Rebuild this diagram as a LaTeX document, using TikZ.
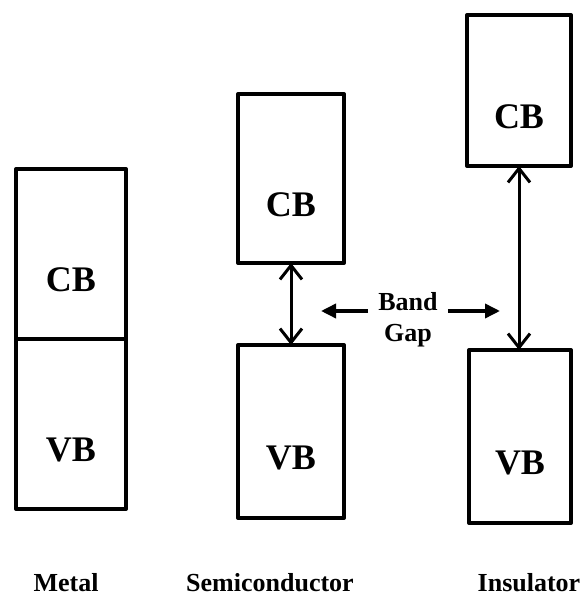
\documentclass[tikz,border=0pt]{standalone}
\usepackage{fontspec}
\setmainfont{Liberation Serif}
\usetikzlibrary{arrows.meta, positioning, calc}

\begin{document}
\begin{tikzpicture}[
            x=1pt, y=1pt,
            % --- 样式 ---
            bandbox/.style={rectangle, draw, line width=4pt, line join=round, outer sep=0pt, inner sep=0pt,
                            minimum width=110pt},
            bandtext/.style={font=\fontsize{36}{40}\selectfont\bfseries, yshift=-26pt},
            material/.style={font=\fontsize{26}{30}\selectfont\bfseries, anchor=base, inner sep=1pt},
            gaplabel/.style={font=\fontsize{26}{31}\selectfont\bfseries, align=center, inner sep=10pt},
            gapline/.style={draw, line width=3pt,
                            {Straight Barb[length=14pt,width=22pt]}-{Straight Barb[length=14pt,width=22pt]}},
            pointer/.style={draw, line width=3.5pt, -{Triangle[length=15pt,width=14pt]}}
        ]
        \useasboundingbox (0,0) rectangle (584,599);

        % --- 金属 ---
        \node[bandbox, minimum height=170pt] (mcb) at (71,345) {};
        \node[bandbox, minimum height=170pt, below=0pt of mcb] (mvb) {};
        \node[bandtext] at (mcb.center) {CB};
        \node[bandtext] at (mvb.center) {VB};

        % --- 半导体 ---
        \node[bandbox, minimum width=106pt, minimum height=169pt] (scb) at (291,420.5) {};
        \node[bandbox, minimum width=106pt, minimum height=173pt] (svb) at (291,167.5) {};
        \node[bandtext] at (scb.center) {CB};
        \node[bandtext] at (svb.center) {VB};

        % --- 绝缘体 ---
        \node[bandbox, minimum width=104pt, minimum height=151pt] (icb) at (519,508.5) {};
        \node[bandbox, minimum width=102pt, minimum height=173pt] (ivb) at (520,162.5) {};
        \node[bandtext] at (icb.center) {CB};
        \node[bandtext] at (ivb.center) {VB};

        % --- 禁带 ---
        \path[gapline] (scb.south) -- (svb.north);
        \path[gapline] (icb.south) -- (icb.south |- ivb.north);

        \node[gaplabel] (bg) at (408,279) {Band\\Gap};
        \coordinate (gl) at (321,288);
        \coordinate (gr) at (500,288);
        \path[pointer] (bg.west |- gl) -- (gl);
        \path[pointer] (bg.east |- gr) -- (gr);

        % --- 名称 ---
        \node[material] (metal) at (66,7) {Metal};
        \node[material] (semi) at (270,7) {Semiconductor};
        \node[material] (ins) at (529,7) {Insulator};

        \end{tikzpicture}
\end{document}
